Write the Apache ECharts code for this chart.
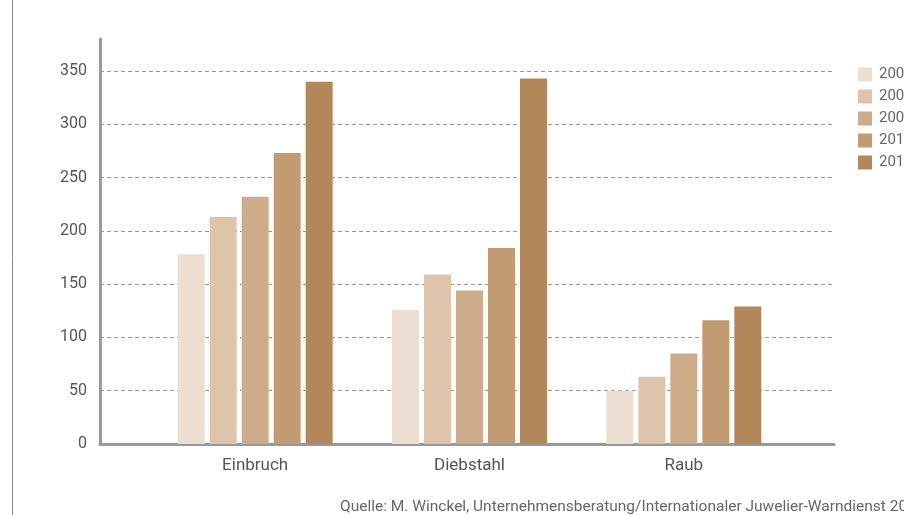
<!DOCTYPE html>
<html>
<head>
<meta charset="utf-8">
<script src="https://cdn.jsdelivr.net/npm/echarts@6/dist/echarts.min.js"></script>
<style>
  html, body { margin: 0; padding: 0; background: #fff; }
  #chart { width: 904px; height: 515px; }
</style>
</head>
<body>
<div id="chart"></div>
<script>
// Daten
const categories = ['Einbruch', 'Diebstahl', 'Raub'];
const years = ['2007', '2008', '2009', '2010', '2011'];
const values2007 = [178, 126, 50];
const values2008 = [213, 159, 63];
const values2009 = [232, 144, 85];
const values2010 = [273, 184, 116];
const values2011 = [340, 343, 129];
const yTicks = { min: 0, max: 380, interval: 50 };

const colors = ['#ecdfd2', '#ddc4ab', '#cdac8c', '#c39b72', '#b4875a'];
const allValues = [values2007, values2008, values2009, values2010, values2011];

const chart = echarts.init(document.getElementById('chart'));
const font = 'Roboto, "DejaVu Sans", sans-serif';

const options = {
    animation: false,
    textStyle: { fontFamily: font },
    title: {
        text: 'Quelle: M. Winckel, Unternehmensberatung/Internationaler Juwelier-Warndienst 2011',
        left: 340,
        top: 499,
        padding: 0,
        textStyle: { fontSize: 15.5, fontWeight: 'normal', color: '#666', fontFamily: font }
    },
    legend: {
        orient: 'vertical',
        left: 858,
        top: 67,
        padding: 0,
        itemWidth: 14,
        itemHeight: 14,
        itemGap: 7,
        icon: 'rect',
        data: years,
        textStyle: { fontSize: 15, color: '#666', padding: [0, 0, 0, 2] }
    },
    grid: [
        { left: 100, right: 70, top: 39, bottom: 71 },
        { left: 148, right: 113, top: 39, bottom: 71 }
    ],
    xAxis: [
        {
            gridIndex: 0,
            type: 'category',
            data: [''],
            axisLine: { lineStyle: { color: '#999', width: 3 } },
            axisTick: { show: false },
            axisLabel: { show: false }
        },
        {
            gridIndex: 1,
            type: 'category',
            data: categories,
            axisLine: { show: false },
            axisTick: { show: false },
            axisLabel: { fontSize: 17, color: '#555', margin: 13 }
        }
    ],
    yAxis: [
        {
            gridIndex: 0,
            type: 'value',
            min: yTicks.min,
            max: yTicks.max,
            interval: yTicks.interval,
            axisLine: { show: true, lineStyle: { color: '#999', width: 3 } },
            axisTick: { show: false },
            axisLabel: { fontSize: 16, color: '#555', margin: 13, showMaxLabel: false },
            splitLine: { showMaxLine: false, lineStyle: { color: '#999', type: [4, 3], width: 1 } }
        },
        {
            gridIndex: 1,
            type: 'value',
            min: yTicks.min,
            max: yTicks.max,
            interval: yTicks.interval,
            show: false,
            splitLine: { show: false }
        }
    ],
    series: years.map((y, i) => ({
        name: y,
        type: 'bar',
        xAxisIndex: 1,
        yAxisIndex: 1,
        data: allValues[i],
        barWidth: 27,
        barGap: '18.5%',
        itemStyle: { color: colors[i] }
    })),
    graphic: [
        {
            type: 'line',
            shape: { x1: 12.5, y1: 0, x2: 12.5, y2: 515 },
            style: { stroke: '#888', lineWidth: 1 }
        }
    ]
};

chart.setOption(options);
window.addEventListener('resize', () => chart.resize());
</script>
</body>
</html>
